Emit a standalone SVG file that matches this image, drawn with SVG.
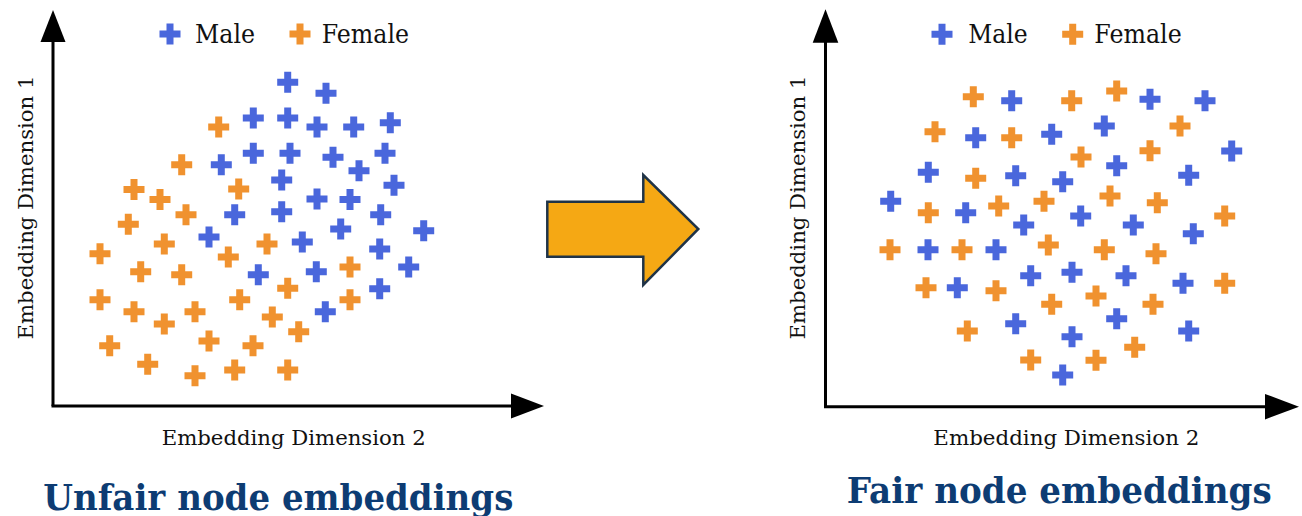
<svg xmlns="http://www.w3.org/2000/svg" xmlns:xlink="http://www.w3.org/1999/xlink" width="1302" height="516" viewBox="0 0 1302 516">
  <style>
    .m { fill: #4a67dc; }
    .f { fill: #f0922f; }
    .axis { stroke: #000; stroke-width: 3; fill: none; }
    .head { fill: #000; }
    .legend { font-family: "DejaVu Serif", "Liberation Serif", serif; font-size: 26px; fill: #111; }
    .axlabel { font-family: "DejaVu Serif", "Liberation Serif", serif; font-size: 21px; fill: #111; }
    .title { font-family: "DejaVu Serif", "Liberation Serif", serif; font-size: 35px; font-weight: bold; fill: #0d3c73; }
  </style>
  <defs>
    <!-- plus-shaped scatter marker, centred on the origin -->
    <path id="plus" d="M-3.5,-10.5 h7 v7 h7 v7 h-7 v7 h-7 v-7 h-7 v-7 h7 z"/>
  </defs>

  <rect width="1302" height="516" fill="#fff"/>

  <!-- Left panel: unfair embeddings -->
  <g id="left-panel">
    <g id="left-axes">
      <line class="axis" x1="53" y1="406" x2="53" y2="40"/>
      <polygon class="head" points="53,10 40.5,42 65.5,42"/>
      <line class="axis" x1="51.5" y1="406" x2="514" y2="406"/>
      <polygon class="head" points="544,406 511,393.5 511,418.5"/>
      <text class="axlabel" x="161.7" y="445" textLength="264" lengthAdjust="spacingAndGlyphs">Embedding Dimension 2</text>
      <text class="axlabel" transform="translate(33,207.5) rotate(-90)" x="-132" y="0" textLength="264" lengthAdjust="spacingAndGlyphs">Embedding Dimension 1</text>
    </g>
    <g id="left-legend">
      <use href="#plus" class="m" x="170" y="34"/>
      <text class="legend" x="195" y="43.3" textLength="60" lengthAdjust="spacingAndGlyphs">Male</text>
      <use href="#plus" class="f" x="300" y="34"/>
      <text class="legend" x="321.7" y="43.3" textLength="87.3" lengthAdjust="spacingAndGlyphs">Female</text>
    </g>
    <g id="left-male" class="m">
      <use href="#plus" x="287.7" y="82.3"/>
      <use href="#plus" x="326" y="93.3"/>
      <use href="#plus" x="253.3" y="118"/>
      <use href="#plus" x="287.7" y="118"/>
      <use href="#plus" x="317" y="127"/>
      <use href="#plus" x="353.7" y="127"/>
      <use href="#plus" x="390.3" y="122.7"/>
      <use href="#plus" x="221.3" y="164.7"/>
      <use href="#plus" x="253.3" y="153.3"/>
      <use href="#plus" x="290" y="153.3"/>
      <use href="#plus" x="333" y="157.3"/>
      <use href="#plus" x="359" y="170.7"/>
      <use href="#plus" x="385" y="153.3"/>
      <use href="#plus" x="281.7" y="180"/>
      <use href="#plus" x="394" y="185.3"/>
      <use href="#plus" x="317" y="199"/>
      <use href="#plus" x="350" y="199.5"/>
      <use href="#plus" x="234.7" y="214.7"/>
      <use href="#plus" x="281.7" y="211.7"/>
      <use href="#plus" x="380.7" y="214.7"/>
      <use href="#plus" x="209" y="237"/>
      <use href="#plus" x="340.7" y="229"/>
      <use href="#plus" x="423.7" y="230.7"/>
      <use href="#plus" x="302.3" y="242"/>
      <use href="#plus" x="379.7" y="249"/>
      <use href="#plus" x="258.3" y="274.7"/>
      <use href="#plus" x="316.3" y="271.7"/>
      <use href="#plus" x="408.7" y="267"/>
      <use href="#plus" x="379.7" y="288.7"/>
      <use href="#plus" x="325.3" y="311.7"/>
    </g>
    <g id="left-female" class="f">
      <use href="#plus" x="218.7" y="127"/>
      <use href="#plus" x="181.7" y="164.7"/>
      <use href="#plus" x="134" y="189.5"/>
      <use href="#plus" x="160" y="199.5"/>
      <use href="#plus" x="238.7" y="189"/>
      <use href="#plus" x="186" y="214.7"/>
      <use href="#plus" x="128.3" y="224.3"/>
      <use href="#plus" x="100" y="253.7"/>
      <use href="#plus" x="164.3" y="244"/>
      <use href="#plus" x="228.3" y="257"/>
      <use href="#plus" x="267" y="244"/>
      <use href="#plus" x="140.7" y="271.7"/>
      <use href="#plus" x="181.7" y="274.7"/>
      <use href="#plus" x="350" y="267"/>
      <use href="#plus" x="287.7" y="288.3"/>
      <use href="#plus" x="100" y="299.7"/>
      <use href="#plus" x="239.7" y="299.7"/>
      <use href="#plus" x="350" y="299.7"/>
      <use href="#plus" x="134" y="311.7"/>
      <use href="#plus" x="195" y="311.7"/>
      <use href="#plus" x="272.3" y="317"/>
      <use href="#plus" x="164.3" y="324"/>
      <use href="#plus" x="298.7" y="331.7"/>
      <use href="#plus" x="109.7" y="345.7"/>
      <use href="#plus" x="209" y="341"/>
      <use href="#plus" x="253" y="345.7"/>
      <use href="#plus" x="147.7" y="364.3"/>
      <use href="#plus" x="195" y="375.7"/>
      <use href="#plus" x="234.7" y="370"/>
      <use href="#plus" x="287.7" y="370"/>
    </g>
    <text id="left-title" class="title" x="43.3" y="510" textLength="470" lengthAdjust="spacingAndGlyphs">Unfair node embeddings</text>
  </g>

  <!-- Block arrow between the two panels -->
  <g id="connectors">
    <polygon points="547.3,201.7 643.3,201.7 643.3,175 698.3,229 643.3,285 643.3,256.7 547.3,256.7" fill="#f5a814" stroke="#1f3347" stroke-width="2.5" stroke-linejoin="miter"/>
  </g>

  <!-- Right panel: fair embeddings -->
  <g id="right-panel">
    <g id="right-axes">
      <line class="axis" x1="825.5" y1="406.7" x2="825.5" y2="40"/>
      <polygon class="head" points="825.5,9.3 812.7,42.7 838.3,42.7"/>
      <line class="axis" x1="824" y1="406.7" x2="1268" y2="406.7"/>
      <polygon class="head" points="1299,406.7 1265,394 1265,419.4"/>
      <text class="axlabel" x="933.3" y="445" textLength="266" lengthAdjust="spacingAndGlyphs">Embedding Dimension 2</text>
      <text class="axlabel" transform="translate(805,207.5) rotate(-90)" x="-132" y="0" textLength="264" lengthAdjust="spacingAndGlyphs">Embedding Dimension 1</text>
    </g>
    <g id="right-legend">
      <use href="#plus" class="m" x="942" y="34.3"/>
      <text class="legend" x="968.3" y="43.3" textLength="59.4" lengthAdjust="spacingAndGlyphs">Male</text>
      <use href="#plus" class="f" x="1072.7" y="34.3"/>
      <text class="legend" x="1094.3" y="43.3" textLength="87.4" lengthAdjust="spacingAndGlyphs">Female</text>
    </g>
    <g id="right-male" class="m">
      <use href="#plus" x="1011.7" y="100.7"/>
      <use href="#plus" x="1150" y="99.3"/>
      <use href="#plus" x="1205" y="100.7"/>
      <use href="#plus" x="975.7" y="137.7"/>
      <use href="#plus" x="1051.7" y="134.3"/>
      <use href="#plus" x="1104.3" y="126"/>
      <use href="#plus" x="1231.7" y="151"/>
      <use href="#plus" x="928.3" y="172.3"/>
      <use href="#plus" x="1015.7" y="175.7"/>
      <use href="#plus" x="1062.7" y="181.7"/>
      <use href="#plus" x="1116.7" y="165.7"/>
      <use href="#plus" x="1188.7" y="175.3"/>
      <use href="#plus" x="890.7" y="201.3"/>
      <use href="#plus" x="965.7" y="212.7"/>
      <use href="#plus" x="1023.7" y="225"/>
      <use href="#plus" x="1080.7" y="216"/>
      <use href="#plus" x="1133.3" y="225"/>
      <use href="#plus" x="1193.3" y="233.7"/>
      <use href="#plus" x="928" y="249.7"/>
      <use href="#plus" x="996" y="249.7"/>
      <use href="#plus" x="1030.7" y="275.7"/>
      <use href="#plus" x="1072" y="272.3"/>
      <use href="#plus" x="1126" y="275.7"/>
      <use href="#plus" x="1183" y="283.3"/>
      <use href="#plus" x="957.3" y="287.7"/>
      <use href="#plus" x="1015.7" y="323.7"/>
      <use href="#plus" x="1116.7" y="318.7"/>
      <use href="#plus" x="1188.7" y="331"/>
      <use href="#plus" x="1072" y="336.7"/>
      <use href="#plus" x="1062.7" y="375"/>
    </g>
    <g id="right-female" class="f">
      <use href="#plus" x="973.3" y="96.7"/>
      <use href="#plus" x="1071.7" y="100.7"/>
      <use href="#plus" x="1116.7" y="91"/>
      <use href="#plus" x="935" y="131.7"/>
      <use href="#plus" x="1011.7" y="137.7"/>
      <use href="#plus" x="1180" y="126"/>
      <use href="#plus" x="1081" y="157"/>
      <use href="#plus" x="1150" y="150.7"/>
      <use href="#plus" x="975.7" y="178.3"/>
      <use href="#plus" x="928.3" y="212.7"/>
      <use href="#plus" x="998.7" y="206"/>
      <use href="#plus" x="1044" y="201.3"/>
      <use href="#plus" x="1110" y="196"/>
      <use href="#plus" x="1157.3" y="202.7"/>
      <use href="#plus" x="1224.7" y="216"/>
      <use href="#plus" x="890" y="249.7"/>
      <use href="#plus" x="962" y="249.7"/>
      <use href="#plus" x="1048.3" y="245"/>
      <use href="#plus" x="1104.3" y="249.7"/>
      <use href="#plus" x="1156" y="253.7"/>
      <use href="#plus" x="926" y="287.7"/>
      <use href="#plus" x="996" y="290.7"/>
      <use href="#plus" x="1051.7" y="304.3"/>
      <use href="#plus" x="1096" y="296"/>
      <use href="#plus" x="1153" y="304.3"/>
      <use href="#plus" x="1224.7" y="283.3"/>
      <use href="#plus" x="967.3" y="331"/>
      <use href="#plus" x="1030.7" y="360"/>
      <use href="#plus" x="1134.7" y="347.3"/>
      <use href="#plus" x="1096" y="360.3"/>
    </g>
    <text id="right-title" class="title" x="846.7" y="503.3" textLength="425" lengthAdjust="spacingAndGlyphs">Fair node embeddings</text>
  </g>
</svg>
